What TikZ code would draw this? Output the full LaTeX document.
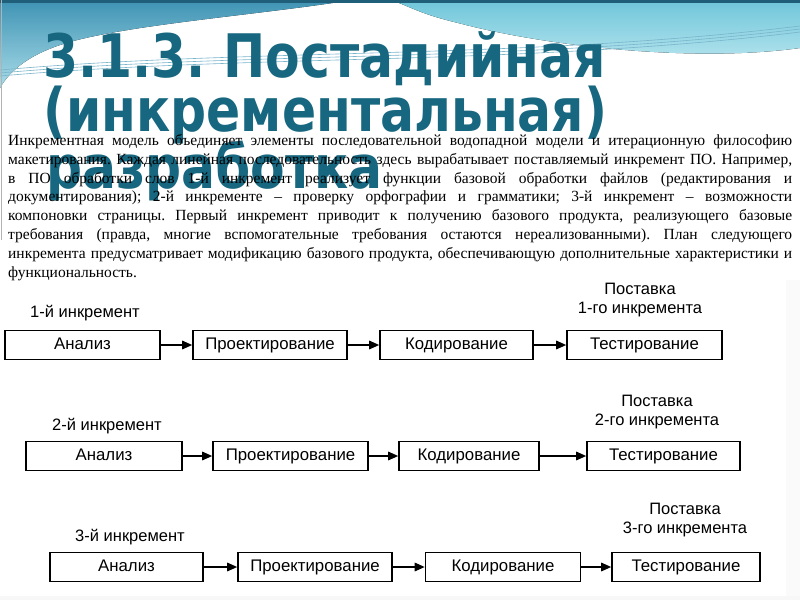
\documentclass[tikz,border=0pt]{standalone}
\usepackage{graphicx}
\usepackage{fontspec}
\setmainfont{Liberation Serif}
\newfontfamily\titlefont{DejaVu Sans}
\newfontfamily\diafont{Liberation Sans}
\usetikzlibrary{arrows.meta}
\definecolor{titleteal}{HTML}{16677F}
\definecolor{skyA}{HTML}{3F93B4}
\definecolor{skyB}{HTML}{A9DCE8}
\definecolor{cyanA}{HTML}{6FC6DA}
\definecolor{cyanB}{HTML}{B5E4EE}
\definecolor{topband}{HTML}{1F5F7A}
\frenchspacing
\newcommand\parline[3]{\node[anchor=base west, inner sep=0pt, font=\fontsize{15.5}{18}\selectfont] (#1) at (8,#2) {#3};}
\begin{document}
\begin{tikzpicture}[x=1pt,y=-1pt,
  stage/.style={draw=black, line width=1.6pt, minimum height=29pt, inner sep=0pt,
    text height=12pt, text depth=3.5pt,
    font=\diafont\fontsize{16.8}{18}\selectfont},
  lbl/.style={font=\diafont\fontsize{16.5}{19}\selectfont, align=center, inner sep=0pt},
  flow/.style={line width=1.6pt, -{Triangle[length=10pt,width=8.5pt]}},
  ttl/.style={anchor=base west, inner sep=0pt, text=titleteal,
    font=\titlefont\bfseries\fontsize{60}{60}\selectfont}]
\useasboundingbox (0,0) rectangle (800,600);
\fill[white] (0,0) rectangle (800,600);
% background decoration
\fill[top color=skyA, bottom color=skyB] (0,0) -- (352,0)
  .. controls (260,15) and (120,25) .. (60,45)
  .. controls (30,55) and (10,70) .. (0,88) -- cycle;
\fill[top color=cyanA, bottom color=cyanB] (392,0) -- (800,0) -- (800,48)
  .. controls (700,62) and (560,48) .. (470,26)
  .. controls (430,16) .. (392,0) -- cycle;
\foreach \d in {0,3,6}{
  \draw[skyA!70, line width=0.6pt] (0,70+\d) .. controls (250,48+\d) and (520,60+\d) .. (800,26+\d);
}
\fill[topband] (0,0) rectangle (800,3);
\draw[gray!60, line width=1pt] (1.5,0) -- (1.5,240);
\fill[gray!4] (786,280) rectangle (800,596);
\fill[gray!6] (0,596) rectangle (800,600);
% title
\node[ttl] (t1) at (43,77) {\scalebox{0.84}[1]{3.1.3. Постадийная}};
\node[ttl] (t2) at (43,131) {\scalebox{0.84}[1]{(инкрементальная)}};
\node[ttl] (t3) at (46,188) {\scalebox{0.84}[1]{разработка}};
% paragraph
\parline{q1}{145.5}{\makebox[784pt][s]{Инкрементная модель объединяет элементы последовательной водопадной модели и итерационную философию}}
\parline{q2}{164.3}{\makebox[784pt][s]{макетирования. Каждая линейная последовательность здесь вырабатывает поставляемый инкремент ПО. Например,}}
\parline{q3}{183.1}{\makebox[784pt][s]{в ПО обработки слов 1-й инкремент реализует функции базовой обработки файлов (редактирования и}}
\parline{q4}{201.9}{\makebox[784pt][s]{документирования); 2-й инкременте – проверку орфографии и грамматики; 3-й инкремент – возможности}}
\parline{q5}{220.7}{\makebox[784pt][s]{компоновки страницы. Первый инкремент приводит к получению базового продукта, реализующего базовые}}
\parline{q6}{239.5}{\makebox[784pt][s]{требования (правда, многие вспомогательные требования остаются нереализованными). План следующего}}
\parline{q7}{258.3}{\makebox[784pt][s]{инкремента предусматривает модификацию базового продукта, обеспечивающую дополнительные характеристики и}}
\parline{q8}{277.1}{функциональность.}
% row 1
\node[lbl] (l1) at (85,313) {1-й инкремент};
\node[lbl] (d1) at (640,300) {Поставка\\1-го инкремента};
\node[stage, minimum width=155pt] (a1) at (82.5,345) {Анализ};
\node[stage, minimum width=154pt] (p1) at (270,345) {Проектирование};
\node[stage, minimum width=153pt] (k1) at (456.5,345) {Кодирование};
\node[stage, minimum width=155pt] (s1) at (644.5,345) {Тестирование};
\draw[flow] (a1.east) -- (p1.west);
\draw[flow] (p1.east) -- (k1.west);
\draw[flow] (k1.east) -- (s1.west);
% row 2
\node[lbl] (l2) at (107,426) {2-й инкремент};
\node[lbl] (d2) at (657,412) {Поставка\\2-го инкремента};
\node[stage, minimum width=156pt] (a2) at (104,456) {Анализ};
\node[stage, minimum width=155pt] (p2) at (290.5,456) {Проектирование};
\node[stage, minimum width=140pt] (k2) at (469,456) {Кодирование};
\node[stage, minimum width=153pt] (s2) at (663.5,456) {Тестирование};
\draw[flow] (a2.east) -- (p2.west);
\draw[flow] (p2.east) -- (k2.west);
\draw[flow] (k2.east) -- (s2.west);
% row 3
\node[lbl] (l3) at (130,537) {3-й инкремент};
\node[lbl] (d3) at (685,520) {Поставка\\3-го инкремента};
\node[stage, minimum width=153pt] (a3) at (126.5,567) {Анализ};
\node[stage, minimum width=154pt] (p3) at (315,567) {Проектирование};
\node[stage, minimum width=155pt] (k3) at (503,567) {Кодирование};
\node[stage, minimum width=148pt] (s3) at (686,567) {Тестирование};
\draw[flow] (a3.east) -- (p3.west);
\draw[flow] (p3.east) -- (k3.west);
\draw[flow] (k3.east) -- (s3.west);
\end{tikzpicture}
\end{document}
